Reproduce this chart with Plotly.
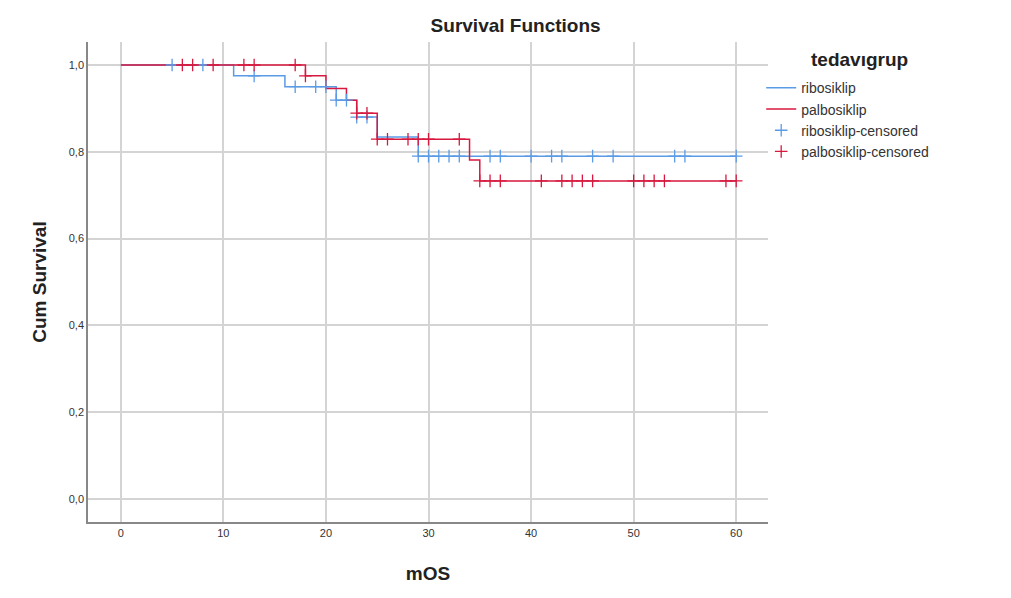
import plotly.graph_objects as go

# ---- data ----
ribo_times = [0, 11, 16, 21, 23, 25, 29, 60]
ribo_surv = [1.0, 0.975, 0.95, 0.919, 0.88, 0.834, 0.79, 0.79]
ribo_cens_t = [5, 8, 13, 17, 19, 20, 21, 22, 23, 24, 29, 30, 31, 32, 33, 36, 37, 40, 42, 43, 46, 48, 54, 55, 60]
ribo_cens_s = [1.0, 1.0, 0.975, 0.95, 0.95, 0.95, 0.919, 0.919, 0.88, 0.88,
               0.79, 0.79, 0.79, 0.79, 0.79, 0.79, 0.79, 0.79, 0.79, 0.79, 0.79, 0.79, 0.79, 0.79, 0.79]

palbo_times = [0, 18, 20, 22, 23, 25, 34, 35, 60]
palbo_surv = [1.0, 0.975, 0.946, 0.919, 0.889, 0.829, 0.781, 0.733, 0.733]
palbo_cens_t = [6, 7, 9, 12, 13, 17, 18, 23, 24, 25, 26, 28, 29, 30, 33, 35, 36, 37, 41, 43, 44, 45, 46, 50, 51, 52, 53, 59, 60]
palbo_cens_s = [1.0, 1.0, 1.0, 1.0, 1.0, 1.0, 0.975, 0.889, 0.889, 0.829, 0.829, 0.829, 0.829, 0.829, 0.829,
                0.733, 0.733, 0.733, 0.733, 0.733, 0.733, 0.733, 0.733, 0.733, 0.733, 0.733, 0.733, 0.733, 0.733]

x_ticks = [0, 10, 20, 30, 40, 50, 60]
y_ticks = [0.0, 0.2, 0.4, 0.6, 0.8, 1.0]
y_ticktext = ["0,0", "0,2", "0,4", "0,6", "0,8", "1,0"]

BLUE = "#5b9be6"
RED = "#d7193f"
FONT = "Liberation Sans, Arial, sans-serif"

fig = go.Figure()
fig.add_trace(go.Scatter(x=ribo_times, y=ribo_surv, mode="lines", line=dict(color=BLUE, width=1.5, shape="hv"),
                         name="ribosiklip"))
fig.add_trace(go.Scatter(x=palbo_times, y=palbo_surv, mode="lines", line=dict(color=RED, width=1.5, shape="hv"),
                         name="palbosiklip"))
fig.add_trace(go.Scatter(x=ribo_cens_t, y=ribo_cens_s, mode="markers",
                         marker=dict(symbol="cross-thin", size=9, line=dict(color=BLUE, width=1.3)),
                         name="ribosiklip-censored"))
fig.add_trace(go.Scatter(x=palbo_cens_t, y=palbo_cens_s, mode="markers",
                         marker=dict(symbol="cross-thin", size=9, line=dict(color=RED, width=1.3)),
                         name="palbosiklip-censored"))

fig.update_layout(
    width=1011, height=598,
    margin=dict(l=88, r=243, t=42, b=76),
    paper_bgcolor="white", plot_bgcolor="white",
    font=dict(family=FONT, size=12, color="#333333"),
    title=dict(text="<b>Survival Functions</b>", x=0.51, xanchor="center", y=0.958, yanchor="middle",
               font=dict(size=19, color="#222222")),
    showlegend=True,
    legend=dict(x=0.99, xanchor="left", y=0.937, yanchor="top",
                font=dict(size=14, color="#333333"), tracegroupgap=0, itemwidth=30,
                bgcolor="rgba(0,0,0,0)"),
    annotations=[dict(text="<b>tedavıgrup</b>", xref="paper", yref="paper",
                      x=(809 - 88) / 680, y=(522 - 60) / 480, xanchor="left", yanchor="middle",
                      showarrow=False, font=dict(size=19, color="#222222"))],
    xaxis=dict(range=[-3.2, 63.1], tickvals=x_ticks, ticktext=[str(v) for v in x_ticks],
               showgrid=True, gridcolor="#d4d4d4", gridwidth=1.5,
               showline=True, linecolor="#888888", linewidth=1.5, zeroline=False,
               ticks="", tickfont=dict(size=11, color="#333333"),
               title=dict(text="<b>mOS</b>", font=dict(size=19, color="#222222"), standoff=29)),
    yaxis=dict(range=[-0.053, 1.053], tickvals=y_ticks, ticktext=y_ticktext,
               showgrid=True, gridcolor="#d4d4d4", gridwidth=1.5,
               showline=True, linecolor="#888888", linewidth=1.5, zeroline=False,
               ticks="", tickfont=dict(size=11, color="#333333"),
               title=dict(text="<b>Cum Survival</b>", font=dict(size=19, color="#222222"), standoff=17)),
)

fig.write_html("out.html")
